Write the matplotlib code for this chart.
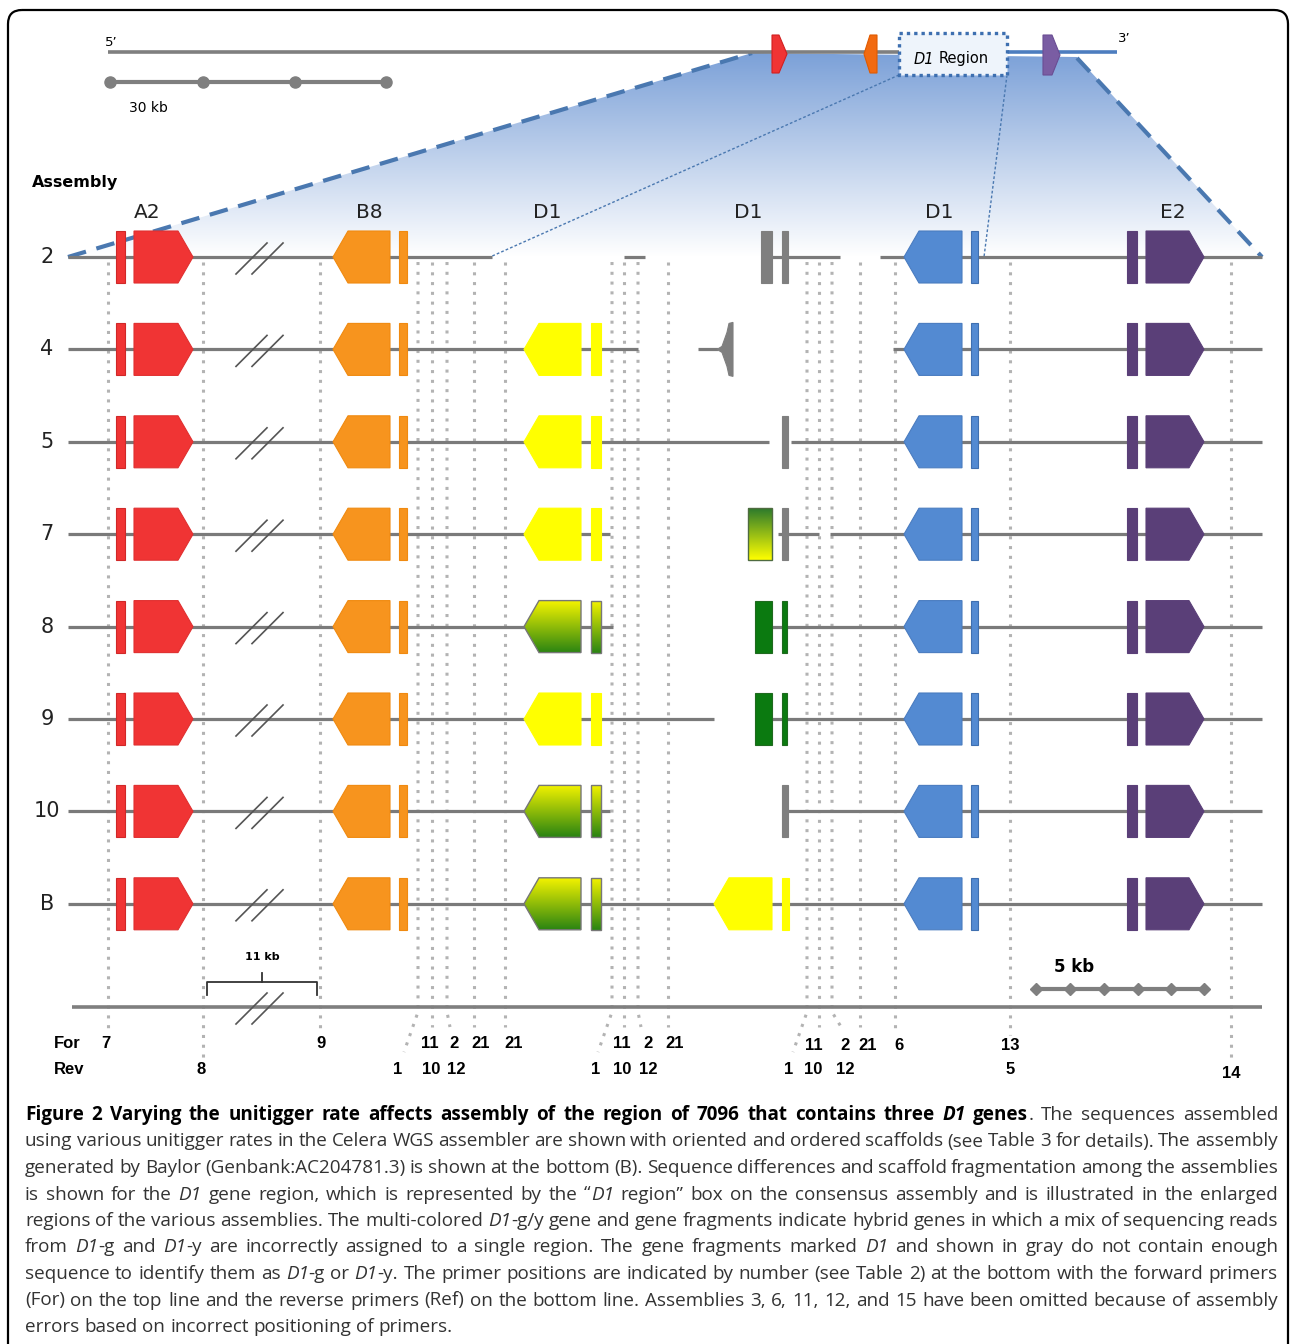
import numpy as np
import matplotlib
matplotlib.use("Agg")
import matplotlib.pyplot as plt
from matplotlib.patches import Polygon, Rectangle, FancyBboxPatch
from matplotlib.colors import to_rgb

# ---- data ----
row_labels = ["2", "4", "5", "7", "8", "9", "10", "B"]
# scaffold line pieces per assembly (start, end) along the enlarged region
row_segments = [
    [(68, 492), (624, 645), (772, 840), (880, 1262)],
    [(68, 638), (698, 718), (893, 1262)],
    [(68, 769), (791, 1262)],
    [(68, 610), (778, 819), (830, 1262)],
    [(68, 613), (772, 1262)],
    [(68, 714), (772, 1262)],
    [(68, 610), (788, 1262)],
    [(68, 1262)],
]
first_d1_kind = ["none", "yellow", "yellow", "yellow", "hybrid", "yellow", "hybrid", "hybrid"]
mid_d1_kind = ["gray2", "graytri", "gray1", "hybridbox", "green2", "green2", "gray1", "yellow"]

gene_names = ["A2", "B8", "D1", "D1", "D1", "E2"]
gene_label_x = [147, 369, 547, 748, 939, 1173]

a2_span = [(116, 125), (134, 193)]
b8_span = [(333, 390), (399, 407)]
d1a_span = [(524, 581), (591, 601)]
d1b_span = [(714, 772), (782, 789)]
d1c_span = [(904, 962), (971, 978)]
e2_span = [(1127, 1137), (1146, 1204)]
gray_bars = [(761, 772), (782, 788)]
green_bars = [(755, 772), (782, 787)]
hybrid_box = (748, 772)

primer_x = [108, 203, 320, 418, 432, 447, 474, 505, 612, 624, 638, 668, 807, 819, 832, 860, 895, 1010, 1231]
primer_xend = [108, 203, 320, 404, 432, 450, 474, 505, 598, 624, 641, 668, 793, 819, 843, 860, 895, 1010, 1231]
primer_yend = [1030, 1058, 1030, 1052, 1027, 1027, 1027, 1027, 1052, 1027, 1027, 1027, 1052, 1027, 1030, 1027, 1030, 1035, 1060]

for_text = ["7", "9", "11", "2", "21", "21", "11", "2", "21", "11", "2", "21", "6", "13"]
for_x = [106, 321, 430, 454, 481, 514, 622, 648, 675, 814, 845, 868, 899, 1010]
rev_text = ["8", "1", "10", "12", "1", "10", "12", "1", "10", "12", "5", "14"]
rev_x = [201, 398, 431, 456, 596, 622, 648, 789, 813, 845, 1010, 1231]

scale30_ticks = [110, 203, 295, 386]
scale5_ticks = [1036, 1070, 1104, 1138, 1171, 1204]

caption = [
    [("Figure 2 Varying the unitigger rate affects assembly of the region of 7096 that contains three ", "bold", "normal"),
     ("D1", "bold", "italic"), (" genes", "bold", "normal"), (". The sequences assembled", "normal", "normal")],
    [("using various unitigger rates in the Celera WGS assembler are shown with oriented and ordered scaffolds (see Table 3 for details). The assembly", "normal", "normal")],
    [("generated by Baylor (Genbank:AC204781.3) is shown at the bottom (B). Sequence differences and scaffold fragmentation among the assemblies", "normal", "normal")],
    [("is shown for the ", "normal", "normal"), ("D1", "normal", "italic"),
     (" gene region, which is represented by the \u201c", "normal", "normal"), ("D1", "normal", "italic"),
     (" region\u201d box on the consensus assembly and is illustrated in the enlarged", "normal", "normal")],
    [("regions of the various assemblies. The multi-colored ", "normal", "normal"), ("D1", "normal", "italic"),
     ("-g/y gene and gene fragments indicate hybrid genes in which a mix of sequencing reads", "normal", "normal")],
    [("from ", "normal", "normal"), ("D1", "normal", "italic"), ("-g and ", "normal", "normal"), ("D1", "normal", "italic"),
     ("-y are incorrectly assigned to a single region. The gene fragments marked ", "normal", "normal"),
     ("D1", "normal", "italic"), (" and shown in gray do not contain enough", "normal", "normal")],
    [("sequence to identify them as ", "normal", "normal"), ("D1", "normal", "italic"), ("-g or ", "normal", "normal"),
     ("D1", "normal", "italic"),
     ("-y. The primer positions are indicated by number (see Table 2) at the bottom with the forward primers", "normal", "normal")],
    [("(For) on the top line and the reverse primers (Ref) on the bottom line. Assemblies 3, 6, 11, 12, and 15 have been omitted because of assembly", "normal", "normal")],
    [("errors based on incorrect positioning of primers.", "normal", "normal")],
]

RED, ORANGE, YELLOW = "#f03434", "#f7941e", "#ffff00"
BLUE, PURPLE, GREEN, GRAY = "#538ad2", "#5a3f78", "#0b7a10", "#7f7f7f"
LINE = "#7a7a7a"
H = 26

fig = plt.figure(figsize=(12.9, 13.44), dpi=100)
ax = fig.add_axes([0, 0, 1, 1])
ax.set_xlim(0, 1290)
ax.set_ylim(1344, 0)
ax.axis("off")


def grad_poly(verts, top, bot, edge="none", z=4, lw=1.0):
    poly = Polygon(verts, closed=True, facecolor="none", edgecolor=edge, lw=lw, zorder=z + 0.1)
    ax.add_patch(poly)
    xs = [v[0] for v in verts]
    ys = [v[1] for v in verts]
    t = np.linspace(0, 1, 128)[:, None]
    img = (1 - t) * np.array(to_rgb(top)) + t * np.array(to_rgb(bot))
    im = ax.imshow(img[:, None, :], extent=(min(xs), max(xs), max(ys), min(ys)), origin="upper",
                   aspect="auto", interpolation="bilinear", zorder=z)
    im.set_clip_path(poly)


def pent_right(x0, x1, y, ch=15):
    return [(x0, y - H), (x1 - ch, y - H), (x1, y), (x1 - ch, y + H), (x0, y + H)]


def pent_left(x0, x1, y, ch=15):
    return [(x0, y), (x0 + ch, y - H), (x1, y - H), (x1, y + H), (x0 + ch, y + H)]


def rect(x0, x1, y):
    return [(x0, y - H), (x1, y - H), (x1, y + H), (x0, y + H)]


def shape(verts, color, edge=None, z=4):
    ax.add_patch(Polygon(verts, closed=True, facecolor=color, edgecolor=edge or color, lw=0.8, zorder=z))


def slash(xc, y):
    for dx in (0, 16):
        ax.plot([xc - 26 + dx, xc + 5 + dx], [y + 17, y - 14], color="#555555", lw=1.2, zorder=3)


# frame
ax.add_patch(FancyBboxPatch((8, 10), 1280, 1360, boxstyle="round,pad=0,rounding_size=14",
                            facecolor="none", edgecolor="black", lw=1.6, zorder=10))

# blue zoom fan
fan = [(68, 257), (752, 53), (1077, 57), (1262, 257)]
grad_poly(fan, "#7ca1d8", "#ffffff", z=0)
ax.plot([68, 752], [257, 53], color="#4a78b0", lw=3, dashes=(4.5, 2.6), zorder=1)
ax.plot([1077, 1262], [58, 257], color="#4a78b0", lw=3, dashes=(4.5, 2.6), zorder=1)
ax.plot([899, 490], [75, 257], color="#4a78b0", lw=1, dashes=(2, 1.5), zorder=1)
ax.plot([1007, 984], [75, 257], color="#4a78b0", lw=1, dashes=(2, 1.5), zorder=1)

# consensus assembly at top
ax.plot([108, 899], [52, 52], color=GRAY, lw=2.6, zorder=2, solid_capstyle="butt")
ax.plot([1007, 1117], [52, 52], color="#4d7dbf", lw=2.6, zorder=2, solid_capstyle="butt")
shape([(772, 35), (779, 35), (787, 54), (779, 73), (772, 73)], RED, "#d02020")
shape([(864, 54), (870, 35), (877, 35), (877, 73), (870, 73)], "#f26a10", "#e05a00")
shape([(1043, 35), (1052, 35), (1060, 55), (1052, 75), (1043, 75)], "#7a5da3", "#6a4d93")
ax.add_patch(Rectangle((899, 33), 108, 42, facecolor="#eef4fb", edgecolor="#3d6fb0", lw=2.4,
                       linestyle=(0, (1, 1.2)), zorder=3))
ax.text(914, 59, "D1", fontsize=10.5, fontstyle="italic", va="center", ha="left", zorder=5)
ax.text(939, 59, "Region", fontsize=10.5, va="center", ha="left", zorder=5)
ax.text(105, 42, "5\u2019", fontsize=9.5, va="center", ha="left")
ax.text(1118, 38, "3\u2019", fontsize=9.5, va="center", ha="left")
ax.plot(scale30_ticks, [82] * len(scale30_ticks), color=GRAY, lw=3, marker="o", ms=8, zorder=2)
ax.text(148, 108, "30 kb", fontsize=10, va="center", ha="center")

ax.text(32, 182, "Assembly", fontsize=11.5, fontweight="bold", va="center", ha="left")
for name, gx in zip(gene_names, gene_label_x):
    ax.text(gx, 213, name, fontsize=14.5, va="center", ha="center", color="#222222")

# primer positions
for x, xe, ye in zip(primer_x, primer_xend, primer_yend):
    if xe == x:
        xs, ys = [x, x], [262, ye]
    else:
        xs, ys = [x, x, xe], [262, 1012, ye]
    ax.plot(xs, ys, color="#b3b3b3", lw=2.2, linestyle=(0, (1, 2.2)), zorder=1)

# assemblies
for i, lab in enumerate(row_labels):
    y = 257 + i * 92.4
    ax.text(47, y, lab, fontsize=15, va="center", ha="center", color="#222222")
    for a, b in row_segments[i]:
        ax.plot([a, b], [y, y], color=LINE, lw=2.3, zorder=2, solid_capstyle="butt")
    slash(262, y)
    shape(rect(*a2_span[0], y), RED, "#d02828")
    shape(pent_right(*a2_span[1], y), RED, "#e03030")
    shape(pent_left(*b8_span[0], y), ORANGE, "#f08a10")
    shape(rect(*b8_span[1], y), ORANGE, "#f08a10")
    shape(pent_left(*d1c_span[0], y), BLUE, "#4a7cc0")
    shape(rect(*d1c_span[1], y), BLUE, "#3f6fb0")
    shape(rect(*e2_span[0], y), PURPLE)
    shape(pent_right(*e2_span[1], y), PURPLE)

    kind = first_d1_kind[i]
    if kind == "yellow":
        shape(pent_left(*d1a_span[0], y), YELLOW)
        shape(rect(*d1a_span[1], y), YELLOW)
    elif kind == "hybrid":
        grad_poly(pent_left(*d1a_span[0], y), "#f2f200", "#2a8412", edge="#777777")
        grad_poly(rect(*d1a_span[1], y), "#f2f200", "#2a8412", edge="#777777")

    kind = mid_d1_kind[i]
    if kind == "gray2":
        for a, b in gray_bars:
            shape(rect(a, b, y), GRAY)
    elif kind == "gray1":
        shape(rect(*gray_bars[1], y), GRAY)
    elif kind == "graytri":
        shape([(717, y), (722, y - 3), (727, y - 17), (729, y - 26), (733, y - 27),
               (733, y + 27), (729, y + 26), (727, y + 17), (722, y + 3)], GRAY)
    elif kind == "hybridbox":
        grad_poly(rect(*hybrid_box, y), "#2c7a2c", "#ffff00", edge="#4f6b40")
        shape(rect(*gray_bars[1], y), GRAY)
    elif kind == "green2":
        for a, b in green_bars:
            shape(rect(a, b, y), GREEN, "#1f6a1f")
    elif kind == "yellow":
        shape(pent_left(*d1b_span[0], y), YELLOW)
        shape(rect(*d1b_span[1], y), YELLOW)

# bottom primer line, scale bars and labels
ax.plot([72, 1262], [1007, 1007], color=GRAY, lw=2.6, zorder=2, solid_capstyle="butt")
slash(262, 1007)
ax.plot([207, 207, 317, 317], [995, 982, 982, 995], color="#333333", lw=1.3, zorder=3)
ax.plot([262, 262], [982, 973], color="#333333", lw=1.3, zorder=3)
ax.text(262, 957, "11 kb", fontsize=8, fontweight="bold", va="center", ha="center")
ax.plot(scale5_ticks, [989] * len(scale5_ticks), color=GRAY, lw=3, marker="D", ms=6, zorder=3)
ax.text(1074, 967, "5 kb", fontsize=12, fontweight="bold", va="center", ha="center")

lab_font = dict(fontsize=12, fontweight="bold", family="Liberation Sans", va="center", ha="center", zorder=5)
ax.text(54, 1043, "For", **dict(lab_font, ha="left"))
ax.text(54, 1069, "Rev", **dict(lab_font, ha="left"))
for t, x in zip(for_text, for_x):
    ax.text(x, 1045 if x > 700 else 1043, t, **lab_font)
for t, x in zip(rev_text, rev_x):
    ax.text(x, 1073 if t == "14" else 1070, t, **lab_font)

# caption, justified line by line
renderer = fig.canvas.get_renderer()
cap_font = "Open Sans"


def tokens_of(runs):
    toks, pending = [], False
    for text, w, s in runs:
        parts = text.split(" ")
        for k, p in enumerate(parts):
            if k > 0:
                pending = True
            if p == "":
                continue
            toks.append((p, w, s, pending and len(toks) > 0))
            pending = False
    return toks


def measure(toks, size):
    ws = []
    for p, w, s, _ in toks:
        t = ax.text(0, 0, p, fontsize=size, fontweight=w, fontstyle=s, family=cap_font)
        ws.append(t.get_window_extent(renderer).width)
        t.remove()
    return ws


x_left, x_right = 25, 1278
size = 12.0
factor = 10.0
for runs in caption[:-1]:
    toks = tokens_of(runs)
    ws = measure(toks, size)
    nsp = sum(1 for tk in toks if tk[3])
    factor = min(factor, (x_right - x_left) / (sum(ws) + nsp * size * 100 / 72 * 0.26))
size *= factor
nat_space = size * 100 / 72 * 0.26

for li, runs in enumerate(caption):
    y = 1115 + li * 26.5
    toks = tokens_of(runs)
    ws = measure(toks, size)
    nsp = sum(1 for tk in toks if tk[3])
    gap = nat_space if li == len(caption) - 1 else (x_right - x_left - sum(ws)) / max(nsp, 1)
    x = x_left
    for (p, w, s, sp), wd in zip(toks, ws):
        if sp:
            x += gap
        ax.text(x, y, p, fontsize=size, fontweight=w, fontstyle=s, family=cap_font,
                va="center", ha="left", color="black" if w == "bold" else "#333333")
        x += wd

ax.set_xlim(0, 1290)
ax.set_ylim(1344, 0)
fig.savefig("out.png", dpi=100, facecolor="white")
